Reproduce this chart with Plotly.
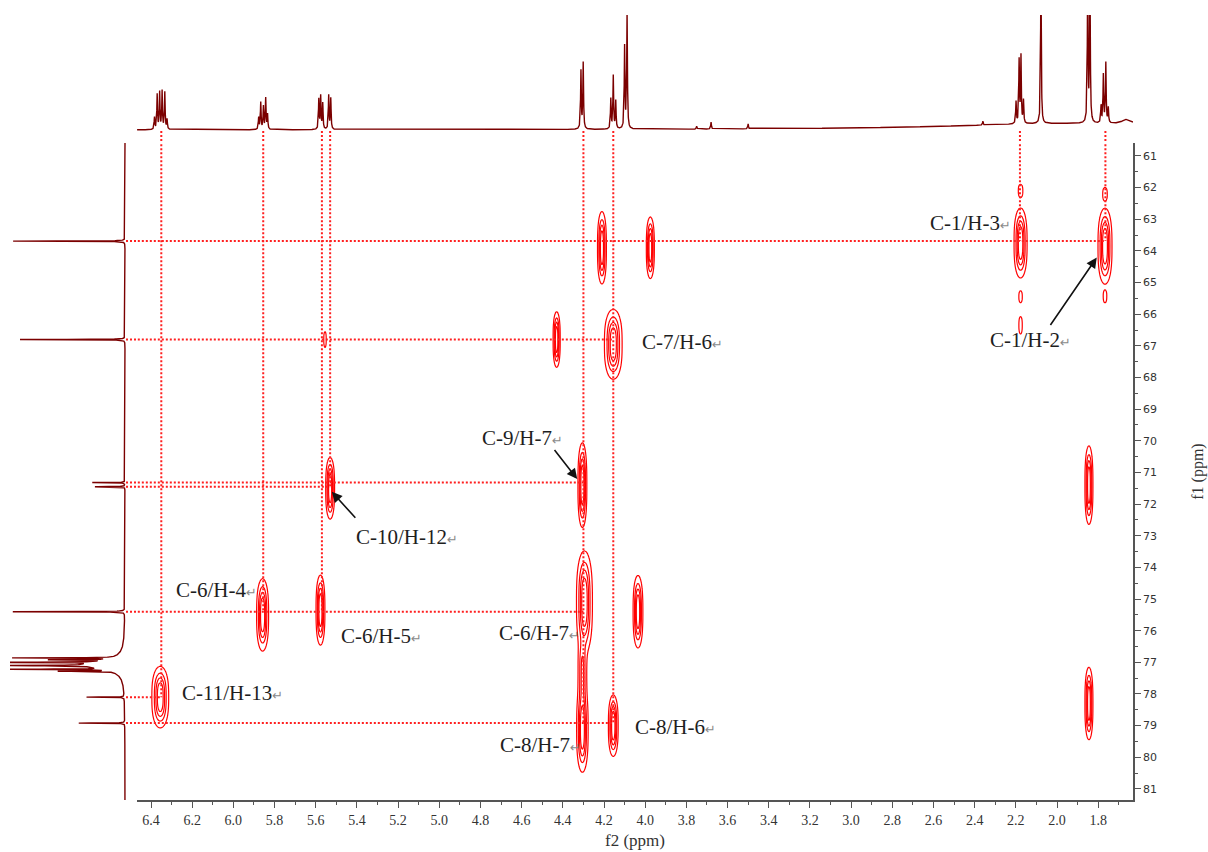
import numpy as np
import plotly.graph_objects as go

W, H = 1208, 852

# ---------------- 1H projection (f2) : line list ----------------
h1_shift = [6.383, 6.370, 6.358, 6.346, 6.333, 6.322,
            5.877, 5.867, 5.854, 5.843, 5.834,
            5.585, 5.576, 5.566, 5.537, 5.527,
            4.312, 4.301,
            4.167, 4.155, 4.143,
            4.100, 4.088,
            3.750, 3.680, 3.500,
            2.360,
            2.199, 2.184, 2.175, 2.163,
            2.078,
            1.851, 1.840,
            1.786, 1.775, 1.763, 1.751,
            1.660, 1.950]
h1_height = [12, 35, 37, 38, 37, 10,
             12, 27, 23, 31, 15,
             30, 33, 26, 34, 31,
             58, 66,
             30, 53, 28,
             82, 116,
             3, 7, 5,
             4,
             22, 63, 67, 23,
             150,
             150, 150,
             17, 48, 60, 15,
             5, 6.5]
h1_hwhm = [0.002] * 38 + [0.03, 0.7]

# ---------------- 13C projection (f1) : line list ----------------
c13_shift = [63.69, 66.80, 71.32, 71.45, 75.40,
             76.86, 76.92, 77.00, 77.10, 77.22, 77.28, 77.08,
             78.10, 78.92]
c13_height = [113, 105, 33, 30, 113,
              100, 57, 113, 113, 113, 52, 40,
              38, 46]
c13_hwhm = [0.005, 0.005, 0.005, 0.005, 0.005,
            0.006, 0.006, 0.006, 0.006, 0.006, 0.006, 0.15,
            0.005, 0.005]

# ---------------- HMBC cross peaks ----------------
cross_f2 = [6.355, 5.858, 5.577, 5.530, 4.305, 4.295, 4.305, 4.305, 4.035, 4.155,
            4.430, 4.155, 4.210, 3.975, 2.177, 1.767, 1.845, 1.845,
            2.177, 2.177, 2.177, 1.767, 1.767, 5.555]
cross_f1 = [78.10, 75.50, 75.35, 71.50, 71.40, 75.10, 77.30, 79.10, 75.40, 79.00,
            66.80, 66.95, 63.90, 63.90, 63.75, 63.85, 71.40, 78.30,
            62.10, 65.45, 66.35, 62.20, 65.45, 66.80]
cross_w2 = [0.019, 0.0135, 0.010, 0.010, 0.010, 0.018, 0.011, 0.013, 0.011, 0.011,
            0.008, 0.020, 0.010, 0.009, 0.0147, 0.0158, 0.009, 0.009,
            0.008, 0.007, 0.006, 0.008, 0.007, 0.005]
cross_w1 = [0.51, 0.60, 0.58, 0.51, 0.70, 0.85, 0.60, 0.72, 0.60, 0.51,
            0.46, 0.58, 0.60, 0.51, 0.58, 0.63, 0.65, 0.60,
            0.15, 0.15, 0.20, 0.15, 0.15, 0.20]
cross_amp = [1.0, 1.0, 1.0, 1.0, 1.0, 1.0, 0.6, 1.0, 1.0, 1.0,
             1.0, 1.0, 1.0, 1.0, 1.0, 1.0, 1.0, 1.0,
             0.25, 0.2, 0.25, 0.25, 0.2, 0.2]

# ---------------- correlation guides ----------------
v_guide_f2 = [6.350, 5.855, 5.570, 5.530, 4.300, 4.155, 2.180, 1.765]
v_guide_end = [78.10, 75.40, 75.40, 71.45, 78.92, 78.92, 63.69, 63.69]
h_guide_f1 = [63.69, 66.80, 71.32, 71.45, 75.40, 78.10, 78.92]
h_guide_end = [1.765, 4.155, 4.300, 5.530, 4.300, 6.350, 4.155]

# ---------------- assignment labels ----------------
lab_text = ["C-1/H-3", "C-1/H-2", "C-7/H-6", "C-9/H-7", "C-10/H-12", "C-6/H-4",
            "C-6/H-5", "C-6/H-7", "C-11/H-13", "C-8/H-6", "C-8/H-7"]
lab_f2 = [2.213, 2.335, 4.025, 4.389, 5.413, 5.874, 5.487, 4.308, 6.259, 4.059, 4.302]
lab_f1 = [63.12, 66.81, 66.87, 69.91, 73.03, 74.73, 76.17, 76.06, 77.97, 79.04, 79.61]
lab_side = ["right", "left", "left", "right", "left", "right",
            "left", "right", "left", "left", "right"]

arrow_head_f2 = [1.807, 4.330, 5.522]
arrow_head_f1 = [64.21, 71.21, 71.61]
arrow_tail_f2 = [2.037, 4.446, 5.401]
arrow_tail_f1 = [66.39, 70.24, 72.48]

# axis ranges (ppm)
F2_RANGE = [6.468, 1.631]
F1_RANGE = [81.35, 60.59]

SPEC_COLOR = "#7b0000"
PEAK_COLOR = "#ff0000"
GUIDE_COLOR = "#ff1f1f"
AXIS_COLOR = "#555555"


def lorentz_sum(axis, centers, heights, widths):
    out = np.zeros_like(axis)
    for c, h, w in zip(centers, heights, widths):
        out += h / (1.0 + ((axis - c) / w) ** 2)
    return out


# 1D projections
f2_axis = np.arange(F2_RANGE[1], F2_RANGE[0], 0.0005)
h1_trace = lorentz_sum(f2_axis, h1_shift, h1_height, h1_hwhm)
f1_axis = np.arange(F1_RANGE[1], F1_RANGE[0], 0.0015)
c13_trace = lorentz_sum(f1_axis, c13_shift, c13_height, c13_hwhm)

# 2D map on a grid that is dense only around the peak columns
cols = np.unique(np.round(cross_f2, 3))
gx_parts = [np.arange(c - 0.08, c + 0.08, 0.0025) for c in cols]
gx_parts.append(np.arange(1.55, 6.55, 0.05))
gx = np.unique(np.round(np.concatenate(gx_parts), 5))
gy = np.arange(60.4, 81.6, 0.05)
GX, GY = np.meshgrid(gx, gy)
Z = np.zeros_like(GX)
for x0, y0, sx, sy, a in zip(cross_f2, cross_f1, cross_w2, cross_w1, cross_amp):
    r2 = (GX - x0) ** 2 / (2 * sx ** 2) + ((GY - y0) ** 2 / (2 * sy ** 2)) ** 1.4
    Z += a * np.exp(-r2)
Z = Z.astype(np.float32)

fig = go.Figure()

# contour map
fig.add_trace(go.Contour(
    x=gx, y=gy, z=Z,
    contours=dict(coloring="lines", start=0.1, end=0.9, size=0.22),
    colorscale=[[0, PEAK_COLOR], [1, PEAK_COLOR]],
    line=dict(width=1.2), showscale=False, hoverinfo="skip",
    xaxis="x", yaxis="y"))

# vertical guides: top panel part and 2D part
vx_top, vy_top, vx_main, vy_main = [], [], [], []
for x0, yend in zip(v_guide_f2, v_guide_end):
    vx_top += [x0, x0, None]
    vy_top += [-1, -13, None]
    vx_main += [x0, x0, None]
    vy_main += [60.0, yend, None]
guide_line = dict(color=GUIDE_COLOR, width=2, dash="2px,2px")
fig.add_trace(go.Scatter(x=vx_top, y=vy_top, mode="lines", line=guide_line,
                         xaxis="x2", yaxis="y2", hoverinfo="skip"))
fig.add_trace(go.Scatter(x=vx_main, y=vy_main, mode="lines", line=guide_line,
                         xaxis="x", yaxis="y", hoverinfo="skip"))

# horizontal guides: left panel part and 2D part
hx_left, hy_left, hx_main, hy_main = [], [], [], []
for y0, xend in zip(h_guide_f1, h_guide_end):
    hx_left += [-1, -12, None]
    hy_left += [y0, y0, None]
    hx_main += [6.6, xend, None]
    hy_main += [y0, y0, None]
fig.add_trace(go.Scatter(x=hx_left, y=hy_left, mode="lines", line=guide_line,
                         xaxis="x3", yaxis="y3", hoverinfo="skip"))
fig.add_trace(go.Scatter(x=hx_main, y=hy_main, mode="lines", line=guide_line,
                         xaxis="x", yaxis="y", hoverinfo="skip"))

# 1D spectra
fig.add_trace(go.Scatter(x=f2_axis, y=h1_trace, mode="lines",
                         line=dict(color=SPEC_COLOR, width=1.4),
                         xaxis="x2", yaxis="y2", hoverinfo="skip"))
fig.add_trace(go.Scatter(x=c13_trace, y=f1_axis, mode="lines",
                         line=dict(color=SPEC_COLOR, width=1.4),
                         xaxis="x3", yaxis="y3", hoverinfo="skip"))

annotations = []
for t, x0, y0, side in zip(lab_text, lab_f2, lab_f1, lab_side):
    annotations.append(dict(
        x=x0, y=y0, xref="x", yref="y", showarrow=False,
        xanchor=side, yanchor="middle",
        text=t + '<span style="font-size:13px;color:#8a8a8a;font-family:DejaVu Sans">\u21b5</span>',
        font=dict(family="Liberation Serif", size=21, color="#1e1e1e")))
for hx, hy, tx, ty in zip(arrow_head_f2, arrow_head_f1, arrow_tail_f2, arrow_tail_f1):
    annotations.append(dict(
        x=hx, y=hy, xref="x", yref="y", ax=tx, ay=ty, axref="x", ayref="y",
        text="", showarrow=True, arrowhead=2, arrowsize=1.3, arrowwidth=1.6,
        arrowcolor="#111111", standoff=0, startstandoff=0))

x_dom = [137 / W, 1133 / W]
y_dom = [1 - 800 / H, 1 - 143 / H]

fig.update_layout(
    width=W, height=H,
    margin=dict(l=0, r=0, t=0, b=0),
    paper_bgcolor="white", plot_bgcolor="white",
    showlegend=False,
    annotations=annotations,
    xaxis=dict(
        domain=x_dom, range=F2_RANGE, anchor="y",
        showline=True, linecolor=AXIS_COLOR, linewidth=1.5,
        ticks="outside", ticklen=6, tickwidth=1.3, tickcolor=AXIS_COLOR,
        tick0=0, dtick=0.2, tickformat=".1f",
        tickfont=dict(family="Liberation Serif", size=14, color="#333333"),
        minor=dict(ticks="outside", ticklen=3, dtick=0.1, tickcolor=AXIS_COLOR, tickwidth=1.2),
        showgrid=False, zeroline=False,
        title=dict(text="f2 (ppm)", standoff=8,
                   font=dict(family="Liberation Serif", size=17, color="#333333"))),
    yaxis=dict(
        domain=y_dom, range=F1_RANGE, anchor="x", side="right",
        showline=True, linecolor=AXIS_COLOR, linewidth=1.5,
        ticks="outside", ticklen=6, tickwidth=1.3, tickcolor=AXIS_COLOR,
        tick0=0, dtick=1,
        tickfont=dict(family="DejaVu Sans", size=11, color="#333333"),
        minor=dict(ticks="outside", ticklen=3, dtick=0.5, tickcolor=AXIS_COLOR, tickwidth=1.2),
        showgrid=False, zeroline=False,
        title=dict(text="f1 (ppm)", standoff=36,
                   font=dict(family="Liberation Serif", size=16, color="#333333"))),
    xaxis2=dict(domain=x_dom, matches="x", anchor="y2", visible=False),
    yaxis2=dict(domain=[1 - 143 / H, 1 - 15 / H], range=[-13, 115], anchor="x2",
                visible=False),
    xaxis3=dict(domain=[10 / W, 137 / W], range=[115, -12], anchor="y3", visible=False),
    yaxis3=dict(domain=y_dom, matches="y", anchor="x3", visible=False),
)

fig.write_html("out.html")
